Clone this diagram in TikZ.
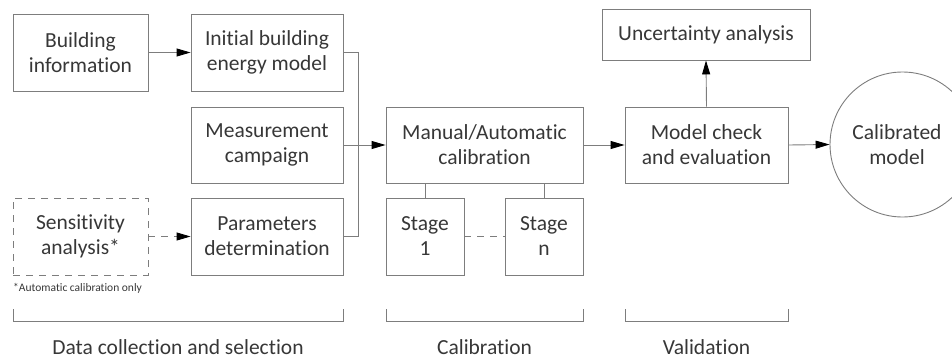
\documentclass[tikz,border=0pt]{standalone}
\usepackage{fontspec}
\setmainfont{Carlito}[Ligatures={NoCommon,NoRare,NoContextual}]
\usetikzlibrary{arrows.meta}
\definecolor{linegray}{RGB}{125,125,125}
\definecolor{textgray}{RGB}{55,55,55}
\begin{document}
\begin{tikzpicture}[x=1pt,y=-1pt,
  box/.style={draw=linegray,line width=0.9pt,inner sep=0pt,align=center,
    text=textgray,font=\fontsize{21.5}{25}\selectfont},
  dbox/.style={box,dash pattern=on 7pt off 6pt},
  link/.style={draw=linegray,line width=0.9pt},
  arr/.style={link,-{Triangle[length=14pt,width=8pt,color=black]}},
  darr/.style={arr,dash pattern=on 7pt off 6pt},
  lbl/.style={text=textgray,inner sep=0pt,font=\fontsize{21.5}{25}\selectfont},
  note/.style={text=textgray,inner sep=0pt,font=\fontsize{11.5}{13}\selectfont}]
\useasboundingbox (0,0) rectangle (952,361);
\clip (0,0) rectangle (952,361);

% data collection column
\node[box,minimum width=135pt,minimum height=77pt] (binfo) at (80.5,52.5) {Building\\information};
\node[box,minimum width=152pt,minimum height=77pt] (init) at (267,52.5) {Initial building\\energy model};
\node[box,minimum width=152pt,minimum height=76pt] (meas) at (267,145) {Measurement\\campaign};
\node[box,minimum width=152pt,minimum height=77pt] (param) at (267,236.5) {Parameters\\determination};
\node[dbox,minimum width=135pt,minimum height=77pt] (sens) at (80.5,236.5) {Sensitivity\\analysis*};
\node[note,anchor=west] (fn) at (13,288) {*Automatic calibration only};

% calibration
\node[box,minimum width=197pt,minimum height=76pt] (manual) at (484.5,145) {Manual/Automatic\\calibration};
\node[box,minimum width=78pt,minimum height=77pt] (stage1) at (425,236.5) {Stage\\1};
\node[box,minimum width=78pt,minimum height=77pt] (stagen) at (544,236.5) {Stage\\n};

% validation
\node[box,minimum width=163pt,minimum height=76pt] (check) at (706.5,145) {Model check\\and evaluation};
\node[box,minimum width=208pt,minimum height=51pt] (unc) at (706,34.5) {Uncertainty analysis};
\node[box,circle,minimum size=145pt] (calib) at (902.5,144.5) {};
\node[lbl,align=center] (calibtxt) at (897,144.5) {Calibrated\\model};

% connectors
\coordinate (busTop) at (358,52.5);
\coordinate (busBot) at (358,236.5);
\draw[arr] (binfo.east) -- (init.west);
\draw[link] (init.east) -- (busTop) -- (busBot) -- (param.east);
\draw[arr] (meas.east) -- (manual.west);
\draw[darr] (sens.east) -- (param.west);
\draw[link] (manual.south -| stage1.north) -- (stage1.north);
\draw[link] (manual.south -| stagen.north) -- (stagen.north);
\draw[link,dash pattern=on 7pt off 6pt] (stage1.east) -- (stagen.west);
\draw[arr] (manual.east) -- (check.west);
\draw[arr] (check.north) -- (unc.south);
\draw[arr] (check.east) -- (calib.west);

% phase brackets
\coordinate (b1a) at (13,309); \coordinate (b1b) at (343,309);
\coordinate (b2a) at (386,309); \coordinate (b2b) at (583,309);
\coordinate (b3a) at (625,309); \coordinate (b3b) at (788,309);
\draw[link] (b1a) -- ++(0,12) -| (b1b);
\draw[link] (b2a) -- ++(0,12) -| (b2b);
\draw[link] (b3a) -- ++(0,12) -| (b3b);
\node[lbl] (l1) at (178,347) {Data collection and selection};
\node[lbl] (l2) at (484.5,347) {Calibration};
\node[lbl] (l3) at (706.5,347) {Validation};
\end{tikzpicture}
\end{document}
